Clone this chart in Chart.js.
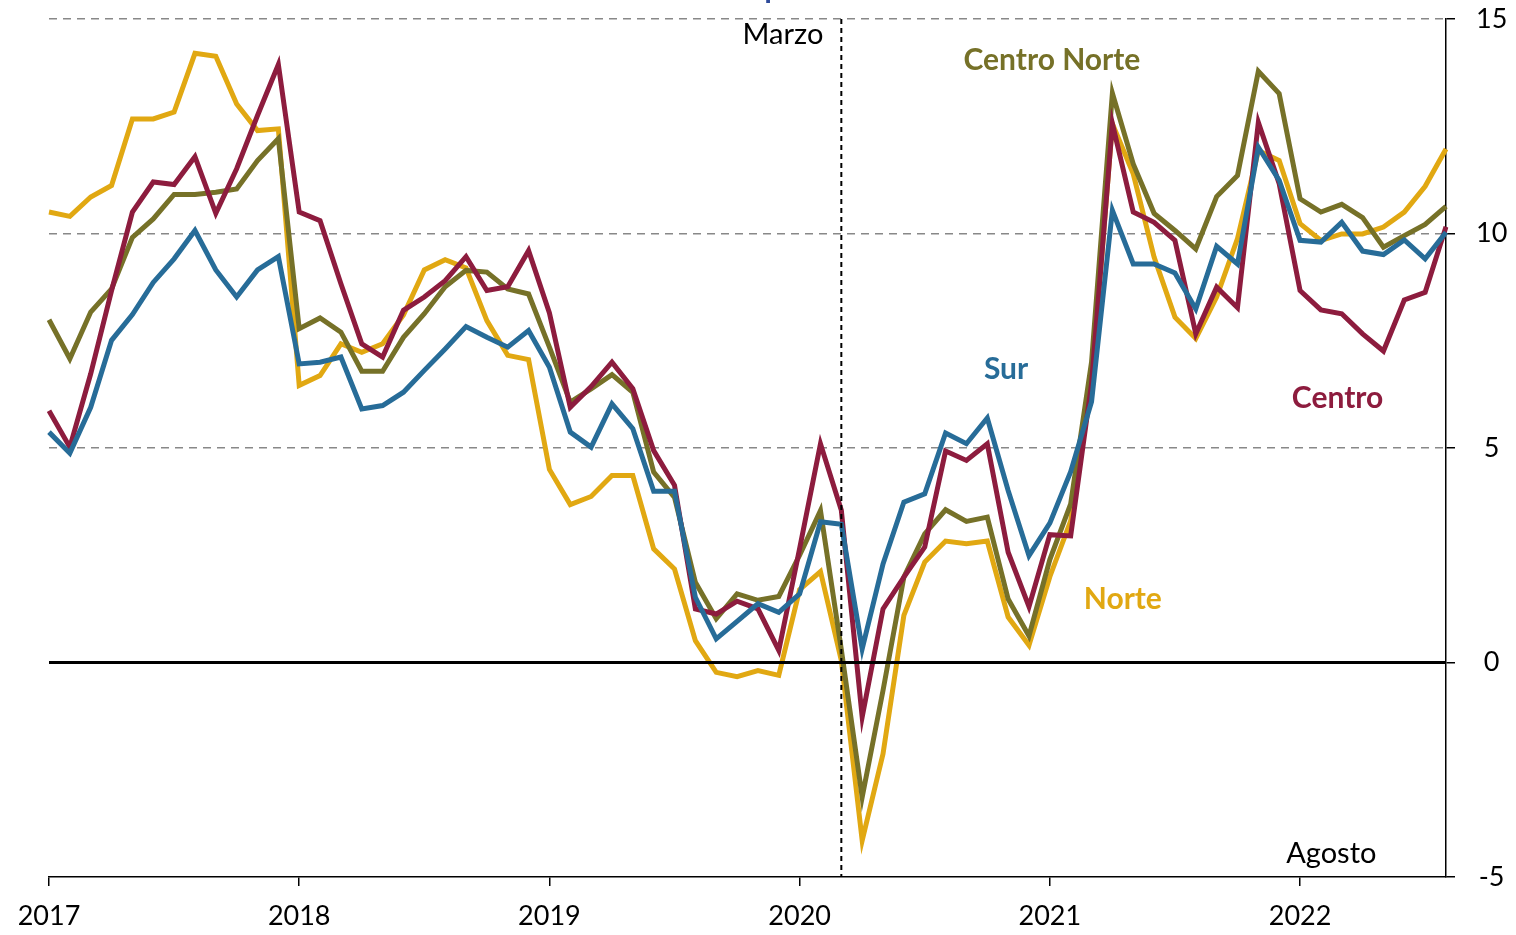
<!DOCTYPE html>
<html lang="es">
<head>
<meta charset="UTF-8">
<title>Regiones</title>
<script src="https://cdn.jsdelivr.net/npm/chart.js"></script>
<style>
  body { margin: 0; background: #fff; }
  #wrap { width: 1516px; height: 935px; }
</style>
</head>
<body>
<div id="wrap"><canvas id="myChart" width="1516" height="935"></canvas></div>
<script>
// ene 2017 - ago 2022, mensual
const years = ['2017', '2018', '2019', '2020', '2021', '2022'];
const months = [];
years.forEach(y => { for (let m = 1; m <= 12; m++) months.push(y + '-' + m); });
months.length = 68;

const norte = [10.50, 10.40, 10.85, 11.12, 12.67, 12.67, 12.83, 14.20, 14.13, 13.02, 12.40, 12.44,
  6.46, 6.69, 7.43, 7.23, 7.43, 8.10, 9.15, 9.39, 9.20, 7.97, 7.16, 7.06,
  4.50, 3.68, 3.87, 4.36, 4.36, 2.65, 2.18, 0.51, -0.23, -0.33, -0.19, -0.30,
  1.70, 2.12, 0.05, -4.15, -2.13, 1.10, 2.34, 2.83, 2.77, 2.83, 1.06, 0.40,
  2.00, 3.30, 6.50, 12.56, 11.39, 9.45, 8.05, 7.55, 8.52, 9.88, 11.93, 11.70,
  10.23, 9.84, 9.99, 9.99, 10.15, 10.50, 11.10, 11.97];

const centroNorte = [7.99, 7.08, 8.17, 8.71, 9.91, 10.34, 10.91, 10.91, 10.96, 11.04, 11.70, 12.21,
  7.78, 8.03, 7.70, 6.79, 6.79, 7.58, 8.13, 8.76, 9.14, 9.10, 8.71, 8.59,
  7.35, 6.07, 6.38, 6.71, 6.30, 4.44, 3.85, 1.87, 1.02, 1.60, 1.45, 1.54,
  2.50, 3.54, 0.30, -3.14, -0.65, 1.99, 3.00, 3.56, 3.29, 3.39, 1.48, 0.62,
  2.40, 3.70, 7.00, 13.27, 11.62, 10.47, 10.07, 9.64, 10.86, 11.35, 13.78, 13.26,
  10.81, 10.50, 10.68, 10.37, 9.68, 9.95, 10.21, 10.63];

const centro = [5.87, 5.02, 6.73, 8.67, 10.50, 11.20, 11.14, 11.79, 10.47, 11.51, 12.75, 13.94,
  10.50, 10.30, 8.83, 7.43, 7.12, 8.21, 8.52, 8.90, 9.46, 8.67, 8.76, 9.60,
  8.15, 5.95, 6.43, 7.00, 6.38, 4.94, 4.13, 1.25, 1.13, 1.43, 1.25, 0.28,
  2.66, 5.10, 3.55, -1.27, 1.25, 1.99, 2.69, 4.93, 4.71, 5.10, 2.57, 1.30,
  2.98, 2.95, 6.50, 12.56, 10.50, 10.26, 9.84, 7.66, 8.75, 8.27, 12.59, 11.16,
  8.67, 8.22, 8.13, 7.66, 7.26, 8.45, 8.63, 10.16];

const sur = [5.37, 4.88, 5.95, 7.51, 8.11, 8.86, 9.41, 10.07, 9.15, 8.52, 9.15, 9.46,
  6.96, 7.00, 7.12, 5.91, 5.99, 6.30, 6.81, 7.31, 7.83, 7.58, 7.35, 7.74,
  6.88, 5.37, 5.02, 6.03, 5.45, 3.99, 3.99, 1.52, 0.55, 0.96, 1.37, 1.17,
  1.60, 3.28, 3.22, 0.32, 2.30, 3.74, 3.93, 5.35, 5.10, 5.70, 4.01, 2.49,
  3.25, 4.45, 6.08, 10.54, 9.29, 9.29, 9.08, 8.24, 9.70, 9.29, 12.01, 11.24,
  9.84, 9.80, 10.26, 9.59, 9.51, 9.85, 9.41, 10.03];

const yTicks = [-5, 0, 5, 10, 15];
const marzoIdx = 38;   // marzo 2020

const colNorte = '#E1A812';
const colCNorte = '#767128';
const colCentro = '#8D1C3E';
const colSur = '#276C98';

// etiquetas: [texto, indice, valor, color, negrita, alineacion]
const etiquetas = [
  ['Centro Norte', 48.1, 14.03, colCNorte, true, 'center'],
  ['Sur', 45.9, 6.83, colSur, true, 'center'],
  ['Centro', 61.8, 6.15, colCentro, true, 'center'],
  ['Norte', 51.5, 1.47, colNorte, true, 'center'],
  ['Agosto', 61.5, -4.45, '#000', false, 'center']
];

const FONT = 'Lato';

const extras = {
  id: 'extras',
  afterDatasetsDraw(chart) {
    const ctx = chart.ctx;
    const xs = chart.scales.x, ys = chart.scales.y;
    const area = chart.chartArea;
    ctx.save();
    // linea del cero
    ctx.strokeStyle = '#000';
    ctx.lineWidth = 3;
    ctx.beginPath();
    ctx.moveTo(area.left, ys.getPixelForValue(0));
    ctx.lineTo(area.right, ys.getPixelForValue(0));
    ctx.stroke();
    // marzo 2020
    const mx = xs.getPixelForValue(marzoIdx);
    ctx.setLineDash([5, 4]);
    ctx.lineWidth = 2;
    ctx.beginPath();
    ctx.moveTo(mx, area.top);
    ctx.lineTo(mx, area.bottom);
    ctx.stroke();
    ctx.setLineDash([]);
    ctx.textBaseline = 'middle';
    ctx.fillStyle = '#000';
    ctx.font = '29px ' + FONT;
    ctx.textAlign = 'right';
    ctx.fillText('Marzo', mx - 18, ys.getPixelForValue(14.64));
    etiquetas.forEach(e => {
      ctx.font = (e[4] ? 'bold 30px ' : '29px ') + FONT;
      ctx.fillStyle = e[3];
      ctx.textAlign = e[5];
      ctx.fillText(e[0], xs.getPixelForValue(e[1]), ys.getPixelForValue(e[2]));
    });
    // titulo (cortado arriba)
    ctx.font = '42px ' + FONT;
    ctx.fillStyle = '#2E4A9A';
    ctx.textAlign = 'center';
    ctx.textBaseline = 'alphabetic';
    ctx.fillText('Cifras en por ciento', 770, -4);
    ctx.restore();
  }
};

function serie(label, data, color) {
  return {
    label: label, data: data, borderColor: color, backgroundColor: color,
    borderWidth: 5, pointRadius: 0, tension: 0, fill: false
  };
}

const myChart = new Chart(document.getElementById('myChart'), {
  type: 'line',
  data: {
    labels: months,
    datasets: [
      serie('Sur', sur, colSur),
      serie('Centro', centro, colCentro),
      serie('Centro Norte', centroNorte, colCNorte),
      serie('Norte', norte, colNorte)
    ]
  },
  options: {
    responsive: false,
    animation: false,
    layout: { padding: { left: 49, right: 0, top: 19, bottom: 0 } },
    plugins: { legend: { display: false }, tooltip: { enabled: false } },
    scales: {
      x: {
        type: 'category',
        offset: false,
        afterBuildTicks: s => { s.ticks = s.ticks.filter(t => t.value % 12 === 0); },
        afterFit: s => { s.height = 58; },
        grid: { drawOnChartArea: false, drawTicks: true, tickLength: 9, color: '#000', lineWidth: 1.5 },
        border: { display: true, color: '#000', width: 1.5 },
        ticks: {
          autoSkip: false, maxRotation: 0, padding: 14,
          color: '#000', font: { family: FONT, size: 27 },
          callback: (v, i) => months[v].split('-')[0]
        }
      },
      y: {
        position: 'right',
        min: -5, max: 15,
        afterBuildTicks: s => { s.ticks = yTicks.map(v => ({ value: v })); },
        afterFit: s => { s.width = 70; s.paddingTop = 0; s.paddingBottom = 0; },
        grid: {
          color: c => (c.tick && (c.tick.value === 0 || c.tick.value === -5)) ? 'rgba(0,0,0,0)' : '#888',
          lineWidth: 1.5,
          tickLength: 9, tickColor: '#000', tickWidth: 1.5, tickBorderDash: []
        },
        border: { display: true, color: '#000', width: 1.5, dash: [8, 6] },
        ticks: {
          padding: 21, crossAlign: 'center',
          color: '#000', font: { family: FONT, size: 27 }
        }
      }
    }
  },
  plugins: [extras]
});
</script>
</body>
</html>
